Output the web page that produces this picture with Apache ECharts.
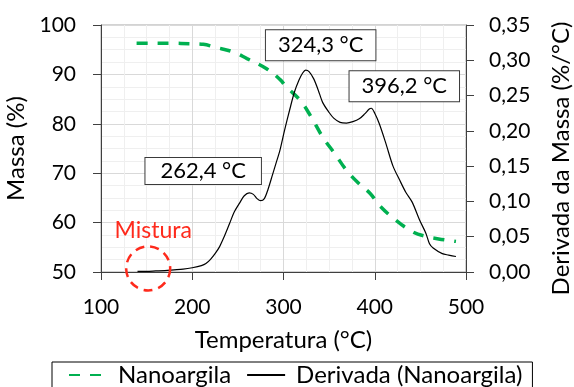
<!DOCTYPE html>
<html>
<head>
<meta charset="utf-8">
<script src="https://cdn.jsdelivr.net/npm/echarts@6/dist/echarts.min.js"></script>
<style>
  html, body { margin: 0; padding: 0; background: #fff; }
  #chart { width: 574px; height: 387px; }
</style>
</head>
<body>
<div id="chart"></div>
<script>
// Mass curve (TGA) of the nanoclay: [temperature °C, mass %]
const massTemps = [139, 150, 175, 200, 212, 225, 244, 260, 281, 296, 303, 318, 330, 343, 356, 369, 382, 395, 405, 423, 442, 456, 470, 489];
const massValues = [96.3, 96.3, 96.3, 96.2, 96.1, 95.5, 94.6, 93.2, 91.2, 89.0, 87.5, 84.8, 81.5, 77.3, 74.0, 70.6, 68.0, 65.9, 63.5, 60.5, 58.1, 57.2, 56.7, 56.2];

// Derivative curve (DTG): [temperature °C, %/°C]
const derivTemps = [140, 150, 160, 170, 180, 190, 200, 210, 215, 220, 225, 230, 235, 241, 246, 252, 257, 262.4, 267, 271, 275, 279, 283, 288, 292, 296, 301, 307, 312, 317, 321, 324.3, 328, 333, 338, 343, 350, 355, 362, 369, 376, 383, 389, 394, 396.2, 400, 405, 412, 420, 427, 434, 441, 449, 456, 460, 464, 474, 481, 489];
const derivValues = [0.001, 0.001, 0.0015, 0.002, 0.003, 0.004, 0.006, 0.009, 0.012, 0.018, 0.026, 0.036, 0.050, 0.069, 0.085, 0.098, 0.108, 0.112, 0.110, 0.104, 0.101, 0.104, 0.117, 0.138, 0.155, 0.172, 0.200, 0.231, 0.255, 0.272, 0.282, 0.286, 0.284, 0.274, 0.258, 0.240, 0.226, 0.218, 0.212, 0.211, 0.213, 0.217, 0.224, 0.231, 0.232, 0.225, 0.210, 0.183, 0.150, 0.131, 0.113, 0.099, 0.074, 0.055, 0.040, 0.034, 0.026, 0.024, 0.022];

// Peak temperatures that are annotated, and the value of the DTG at each peak
const peakTemps = [262.4, 324.3, 396.2];
const peakValues = [0.112, 0.286, 0.232];

// Tick labels
const xTicks = [100, 200, 300, 400, 500];
const massTicks = [50, 60, 70, 80, 90, 100];
const derivTicks = ['0,00', '0,05', '0,10', '0,15', '0,20', '0,25', '0,30', '0,35'];

// "Mistura" highlight position (temperature, DTG value)
const misturaPoint = [151.7, 0.005];

const FONT = 'Lato';
const AXIS_COLOR = '#404040';

const massData = massTemps.map((t, i) => [t, massValues[i]]);
const derivData = derivTemps.map((t, i) => [t, derivValues[i]]);

// Label box placement around each annotated peak
const peakLabelStyles = [
  { offset: [-46, -22], padding: [2, 15, 2, 15] },
  { offset: [15, -25], padding: [4, 12, 4, 12] },
  { offset: [33, -22], padding: [4, 12, 4, 12] }
];

const peakMarks = peakTemps.map((t, i) => ({
  coord: [t, peakValues[i]],
  symbolSize: 0,
  label: {
    show: true,
    position: 'inside',
    offset: peakLabelStyles[i].offset,
    formatter: String(t).replace('.', ',') + ' \u00B0C',
    fontFamily: FONT,
    fontSize: 22,
    color: '#000',
    backgroundColor: '#fff',
    borderColor: '#3a3a3a',
    borderWidth: 1,
    lineHeight: 22,
    padding: peakLabelStyles[i].padding
  }
}));

const chart = echarts.init(document.getElementById('chart'), null, { renderer: 'canvas' });

chart.setOption({
  animation: false,
  backgroundColor: '#fff',
  textStyle: { fontFamily: FONT },
  grid: {
    left: 101, right: 108, top: 25, bottom: 115,
    containLabel: false,
    outerBoundsMode: 'none',
    show: true, borderColor: '#a6a6a6', borderWidth: 1, backgroundColor: 'transparent'
  },
  legend: {
    left: 52, top: 362,
    padding: [1, 10, 30, 16],
    borderColor: '#000', borderWidth: 1,
    itemWidth: 38, itemHeight: 14, itemGap: 15,
    itemStyle: { opacity: 0 },
    textStyle: { fontFamily: FONT, fontSize: 24, color: '#000', padding: [0, 0, 0, 6] },
    data: ['Nanoargila', 'Derivada (Nanoargila)']
  },
  xAxis: {
    type: 'value',
    min: xTicks[0], max: xTicks[xTicks.length - 1], interval: 100,
    name: 'Temperatura (\u00B0C)', nameLocation: 'middle', nameGap: 56,
    nameTextStyle: { fontFamily: FONT, fontSize: 24, color: '#000' },
    axisLine: { show: true, onZero: false, lineStyle: { color: AXIS_COLOR, width: 1 } },
    axisTick: { show: true, inside: false, length: 8, lineStyle: { color: AXIS_COLOR } },
    axisLabel: { fontFamily: FONT, fontSize: 21, color: '#000', margin: 25 },
    splitLine: { show: true, lineStyle: { color: '#d9d9d9', width: 1 } },
    minorTick: { show: false, splitNumber: 4 },
    minorSplitLine: { show: true, lineStyle: { color: '#efefef', width: 1 } }
  },
  yAxis: [
    {
      type: 'value', position: 'left',
      min: massTicks[0], max: massTicks[massTicks.length - 1], interval: 10,
      name: 'Massa (%)', nameLocation: 'middle', nameGap: 66,
      nameTextStyle: { fontFamily: FONT, fontSize: 24, color: '#000' },
      axisLine: { show: true, lineStyle: { color: AXIS_COLOR, width: 1 } },
      axisTick: { show: true, inside: false, length: 8, lineStyle: { color: AXIS_COLOR } },
      axisLabel: { fontFamily: FONT, fontSize: 21, color: '#000', margin: 25 },
      splitLine: { show: true, lineStyle: { color: '#d9d9d9', width: 1 } },
      minorTick: { show: false, splitNumber: 4 },
      minorSplitLine: { show: true, lineStyle: { color: '#efefef', width: 1 } }
    },
    {
      type: 'value', position: 'right',
      min: 0, max: 0.35, interval: 0.05,
      name: 'Derivada da Massa (%/\u00B0C)', nameLocation: 'middle', nameGap: 83,
      nameTextStyle: { fontFamily: FONT, fontSize: 24, color: '#000', padding: [0, 20, 0, 0] },
      axisLine: { show: true, lineStyle: { color: AXIS_COLOR, width: 1 } },
      axisTick: { show: true, inside: false, length: 8, lineStyle: { color: AXIS_COLOR } },
      axisLabel: {
        fontFamily: FONT, fontSize: 21, color: '#000', margin: 23,
        formatter: (v) => derivTicks[Math.round(v / 0.05)]
      },
      splitLine: { show: false }
    }
  ],
  series: [
    {
      name: 'Nanoargila',
      type: 'line',
      yAxisIndex: 0,
      data: massData,
      smooth: 0.4,
      symbol: 'none',
      lineStyle: { color: '#00b050', width: 3.5, type: [11, 10] },
      itemStyle: { color: '#00b050' },
      z: 3
    },
    {
      name: 'Derivada (Nanoargila)',
      type: 'line',
      yAxisIndex: 1,
      data: derivData,
      smooth: 0.3,
      symbol: 'none',
      lineStyle: { color: '#000', width: 1.2 },
      itemStyle: { color: '#000' },
      z: 4,
      markPoint: {
        silent: true,
        data: peakMarks.concat([{
          coord: misturaPoint,
          symbol: 'circle',
          symbolSize: 44,
          itemStyle: {
            color: 'transparent',
            borderColor: '#fe2a1c',
            borderWidth: 2.5,
            borderType: [9, 6]
          },
          label: {
            show: true,
            position: 'top',
            distance: 3,
            offset: [5, 0],
            formatter: 'Mistura',
            fontFamily: FONT,
            fontSize: 23,
            color: '#fe2a1c'
          }
        }])
      }
    }
  ]
});
</script>
</body>
</html>
